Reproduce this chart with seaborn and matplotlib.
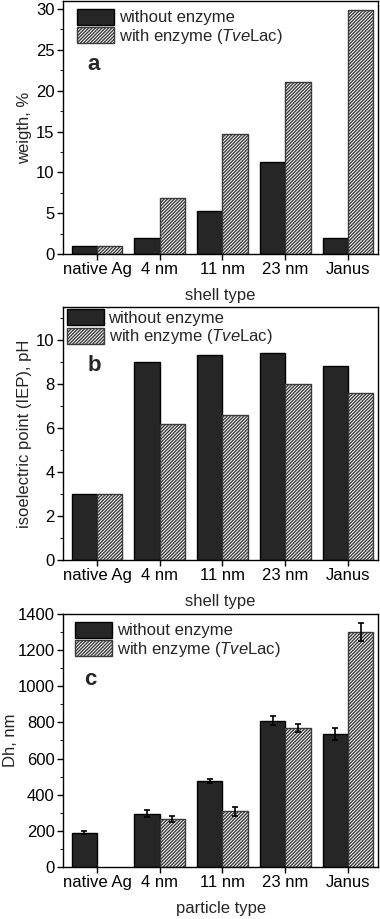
import numpy as np
import pandas as pd
import seaborn as sns
import matplotlib
matplotlib.use('Agg')
import matplotlib.pyplot as plt
from matplotlib.ticker import MultipleLocator

# == Data == #

CATEGORIES = ['native Ag', '4 nm', '11 nm', '23 nm', 'Janus']
GROUPS = ['without enzyme', 'with enzyme ($\\mathit{Tve}$Lac)']

weight_without = [1.0, 2.0, 5.3, 11.3, 1.95]
weight_with = [1.0, 6.85, 14.75, 21.1, 29.9]

iep_without = [3.0, 9.0, 9.3, 9.4, 8.8]
iep_with = [3.0, 6.2, 6.6, 8.0, 7.6]

dh_without = [190, 295, 478, 809, 735]
dh_with = [np.nan, 266, 308, 768, 1298]
dh_err_without = [8, 18, 11, 26, 35]
dh_err_with = [np.nan, 15, 24, 22, 50]


def makeFrame(without, withenz):
    df = pd.DataFrame({'type': CATEGORIES * 2,
                       'group': [GROUPS[0]] * 5 + [GROUPS[1]] * 5,
                       'value': list(without) + list(withenz)})
    return df


sns.set_style('ticks')
plt.rcParams['font.family'] = ['Liberation Sans', 'DejaVu Sans']
plt.rcParams['mathtext.fontset'] = 'custom'
plt.rcParams['mathtext.rm'] = 'Liberation Sans'
plt.rcParams['mathtext.it'] = 'Liberation Sans:italic'
plt.rcParams['hatch.linewidth'] = 1.0
plt.rcParams['hatch.color'] = '#404040'

FS = 12
DARK = '#262626'

fig = plt.figure(figsize=(3.8, 9.19), dpi=100)

axA = fig.add_axes([0.166, 0.7236, 0.829, 0.2754])
axB = fig.add_axes([0.166, 0.3906, 0.829, 0.2754])
axC = fig.add_axes([0.166, 0.0566, 0.829, 0.2753])


def drawPanel(ax, without, withenz, ylabel, xlabel, ymax, major, minor,
              letter, letterpos, legpos, ylabpad=3):
    df = makeFrame(without, withenz)
    sns.barplot(data=df, x='type', y='value', hue='group', order=CATEGORIES,
                hue_order=GROUPS, errorbar=None, width=0.81, ax=ax,
                palette=[DARK, 'white'], edgecolor='black', linewidth=1.0,
                legend=False)
    for bar in ax.containers[1]:
        bar.set_hatch('//////////')
        bar.set_edgecolor('#3a3a3a')
    for bar in ax.containers[0]:
        bar.set_edgecolor('black')
    ax.set_xlim(-0.54, 4.48)
    ax.set_ylim(0, ymax)
    ax.yaxis.set_major_locator(MultipleLocator(major))
    ax.yaxis.set_minor_locator(MultipleLocator(minor))
    ax.tick_params(axis='both', which='major', direction='out', length=4,
                   width=1, labelsize=FS, colors='black', pad=2)
    ax.tick_params(axis='y', which='minor', direction='out', length=2.5, width=0.8)
    ax.set_xlabel(xlabel, fontsize=FS, labelpad=8)
    ax.set_ylabel(ylabel, fontsize=FS, labelpad=ylabpad)
    for s in ax.spines.values():
        s.set_visible(True)
        s.set_linewidth(1.0)
        s.set_color('black')
    ax.text(letterpos[0], letterpos[1], letter, transform=ax.transAxes,
            fontsize=16, fontweight='bold', ha='center', va='center')
    handles = [ax.containers[0][0], ax.containers[1][1]]
    ax.legend(handles, GROUPS, loc='upper left', bbox_to_anchor=legpos,
              frameon=False, fontsize=FS, borderaxespad=0, borderpad=0,
              handlelength=2.2, handleheight=1.1, labelspacing=0.1,
              handletextpad=0.3)


drawPanel(axA, weight_without, weight_with, 'weigth, %', 'shell type',
          31, 5, 2.5, 'a', (0.098, 0.75), (0.045, 0.97))
drawPanel(axB, iep_without, iep_with, 'isoelectric point (IEP), pH',
          'shell type', 11.5, 2, 1, 'b', (0.10, 0.77), (0.012, 0.992))
drawPanel(axC, dh_without, dh_with, 'Dh, nm', 'particle type',
          1400, 200, 100, 'c', (0.086, 0.74), (0.038, 0.97), ylabpad=0)

# error bars for Dh panel, placed on the bars seaborn drew
for cont, errs, vals in [(axC.containers[0], dh_err_without, dh_without),
                         (axC.containers[1], dh_err_with, dh_with)]:
    xs, ys, es = [], [], []
    for bar in cont:
        xc = bar.get_x() + bar.get_width() / 2
        i = int(round(xc))
        if np.isnan(vals[i]):
            continue
        xs.append(xc)
        ys.append(vals[i])
        es.append(errs[i])
    axC.errorbar(xs, ys, yerr=es, fmt='none', ecolor='black',
                 elinewidth=1.2, capsize=2.5, capthick=1.2)

fig.savefig('out.png', dpi=100)
